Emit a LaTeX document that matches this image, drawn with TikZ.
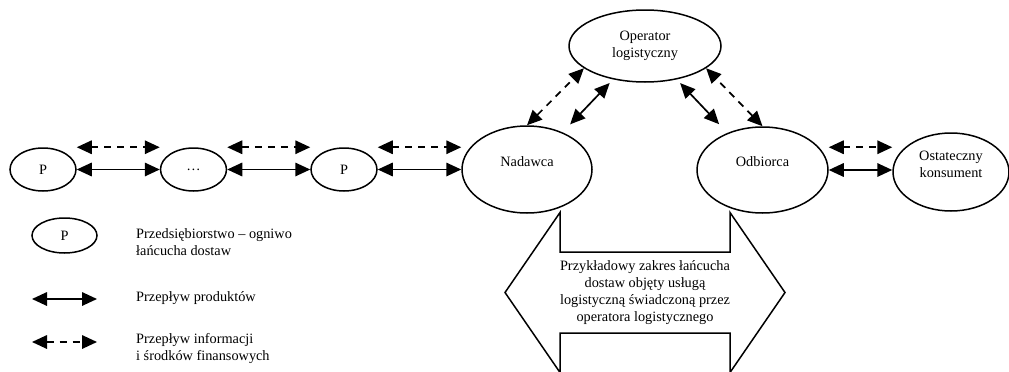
\documentclass[tikz,border=0pt]{standalone}
\usepackage{fontspec}
\setmainfont{Liberation Serif}
\usetikzlibrary{arrows.meta, shapes.geometric}

\begin{document}
\begin{tikzpicture}[x=1pt, y=-1pt,
  >={Triangle[length=15pt, width=13.5pt]},
  every node/.style={font=\fontsize{14.3}{16.8}\selectfont, align=center},
  ogniwo/.style={draw, ellipse, line width=1.5pt, inner sep=0pt,
    minimum width=66pt, minimum height=43pt},
  uczestnik/.style={draw, ellipse, line width=1.5pt, inner sep=0pt},
  wyzej/.style={text height=10pt, text depth=17pt},
  prod/.style={<->, line width=1.7pt},
  info/.style={<->, line width=1.7pt, dash pattern=on 7pt off 6pt}
 ]
 \useasboundingbox (0,0) rectangle (1009,372);

 % lancuch dostaw
 \node [ogniwo] (P1) at (43,169.5) {P};
 \node [ogniwo] (dots) at (193.5,169.5) {\ldots};
 \node [ogniwo] (P2) at (344,169.5) {P};
 \node [uczestnik, wyzej, minimum width=130pt, minimum height=87pt] (nad) at (527,169.5) {Nadawca};
 \node [uczestnik, wyzej, minimum width=131pt, minimum height=86pt] (odb) at (762.5,170) {Odbiorca};
 \node [uczestnik, text depth=16pt, minimum width=116pt, minimum height=78pt] (ost) at (951,172) {Ostateczny\\konsument};
 \node [uczestnik, minimum width=152pt, minimum height=72pt] (op) at (645,46) {Operator\\logistyczny};

 \draw [prod] (P1) -- (dots);
 \draw [prod] (dots) -- (P2);
 \draw [prod] (P2) -- (nad);
 \draw [prod] (odb.east) -- (odb.east -| ost.west);

 \draw [info] (P1.east |- P1.north) -- (dots.west |- P1.north);
 \draw [info] (dots.east |- P1.north) -- (P2.west |- P1.north);
 \draw [info] (P2.east |- P1.north) -- (nad.west |- P1.north);
 \draw [info] (odb.east |- P1.north) -- (ost.west |- P1.north);

 \draw [prod, shorten <=11pt, shorten >=5pt] (nad) -- (op);
 \draw [prod, shorten <=12pt, shorten >=5pt] (odb) -- (op);
 \draw [info] (nad.north) -- (op.200);
 \draw [info] (odb.north) -- (op.340);

 % zakres uslugi
 \draw [line width=1.5pt] (505,292.5) -- (560,212.5) -- (560,252) -- (730,252) -- (730,212.5)
  -- (785,292.5) -- (730,372.5) -- (730,333) -- (560,333) -- (560,372.5) -- cycle;
 \node (zakres) at (645,292.5) {Przykładowy zakres łańcucha\\dostaw objęty usługą\\logistyczną świadczoną przez\\operatora logistycznego};

 % legenda
 \node [ogniwo, minimum width=65pt, minimum height=35pt] (legP) at (64.5,235.5) {P};
 \node [anchor=west, align=left, inner xsep=0pt] (legPopis) at (136,242) {Przedsiębiorstwo – ogniwo\\łańcucha dostaw};

 \coordinate (prodA) at (32,299);
 \coordinate (prodB) at (97,299);
 \draw [prod] (prodA) -- (prodB);
 \node [anchor=base west, inner xsep=0pt] (prodOpis) at (136,301.5) {Przepływ produktów};

 \coordinate (infoA) at (32,342);
 \coordinate (infoB) at (97,342);
 \draw [info] (infoA) -- (infoB);
 \node [anchor=west, align=left, inner xsep=0pt] (infoOpis) at (136,348.5) {Przepływ informacji\\i środków finansowych};
\end{tikzpicture}
\end{document}
